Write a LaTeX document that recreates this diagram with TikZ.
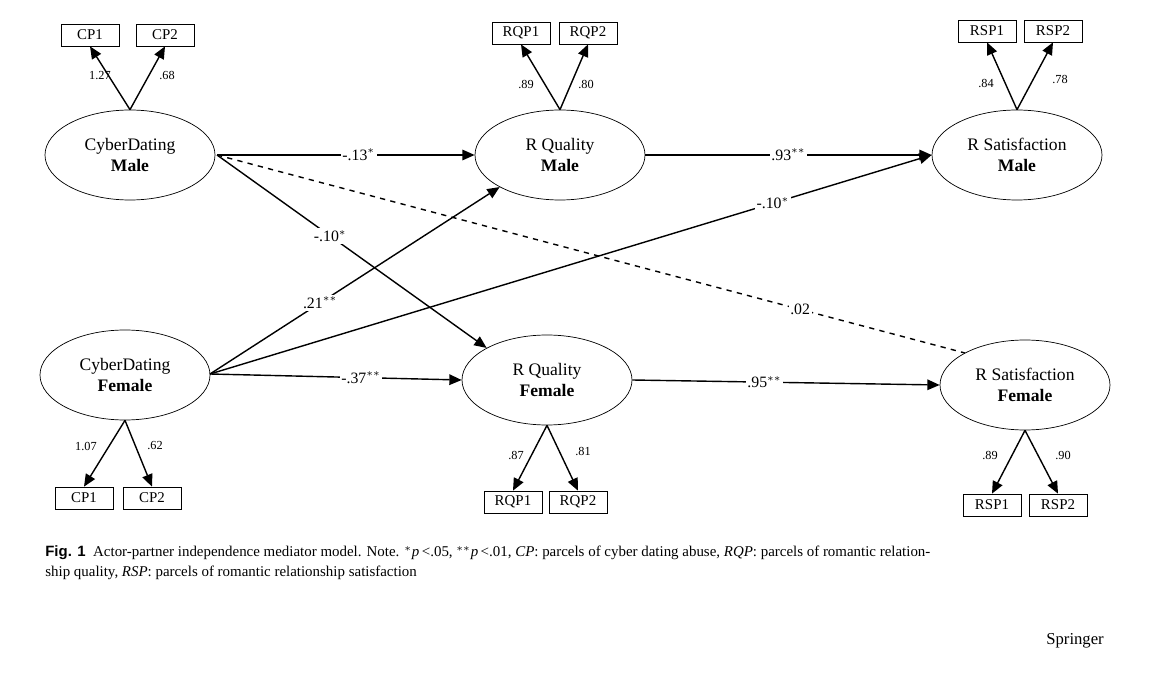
\documentclass[tikz,border=0pt]{standalone}
\usepackage{fontspec}
\setmainfont{Liberation Serif}
\newfontfamily\capsans{Liberation Sans}
\usetikzlibrary{arrows.meta,shapes.geometric}
\begin{document}
\begin{tikzpicture}[x=0.02cm,y=-0.02cm,
  lat/.style={draw,ellipse,minimum width=170*0.02cm,minimum height=90*0.02cm,align=center,font=\fontsize{10}{12}\selectfont,inner sep=0pt},
  box/.style={draw,minimum width=58*0.02cm,minimum height=22*0.02cm,inner sep=0pt,font=\fontsize{8.5}{10}\selectfont},
  ld/.style={font=\fontsize{7}{8}\selectfont},
  arr/.style={thick,-{Triangle[length=7pt,width=6pt]}},
  lab/.style={fill=white,inner sep=1pt,font=\fontsize{9}{10}\selectfont}]
\useasboundingbox (0,0) rectangle (1170,692);
\node[lat] (cdm) at (130,155) {CyberDating\\\textbf{Male}};
\node[lat] (rqm) at (560,155) {R Quality\\\textbf{Male}};
\node[lat] (rsm) at (1017,155) {R Satisfaction\\\textbf{Male}};
\node[lat] (cdf) at (125,375) {CyberDating\\\textbf{Female}};
\node[lat] (rqf) at (547,380) {R Quality\\\textbf{Female}};
\node[lat] (rsf) at (1025,385) {R Satisfaction\\\textbf{Female}};
\node[box] (cp1m) at (90,35) {CP1};
\node[box] (cp2m) at (165,35) {CP2};
\node[box] (rqp1m) at (521,33) {RQP1};
\node[box] (rqp2m) at (588,33) {RQP2};
\node[box] (rsp1m) at (987,31) {RSP1};
\node[box] (rsp2m) at (1053,31) {RSP2};
\node[box] (cp1f) at (84,498) {CP1};
\node[box] (cp2f) at (152,498) {CP2};
\node[box] (rqp1f) at (513,502) {RQP1};
\node[box] (rqp2f) at (578,502) {RQP2};
\node[box] (rsp1f) at (992,505) {RSP1};
\node[box] (rsp2f) at (1058,505) {RSP2};
\foreach \e/\a/\b in {cdm.north/cp1m/cp2m,rqm.north/rqp1m/rqp2m,rsm.north/rsp1m/rsp2m}{
  \draw[arr] (\e) -- (\a.south); \draw[arr] (\e) -- (\b.south);}
\foreach \e/\a/\b in {cdf.south/cp1f/cp2f,rqf.south/rqp1f/rqp2f,rsf.south/rsp1f/rsp2f}{
  \draw[arr] (\e) -- (\a.north); \draw[arr] (\e) -- (\b.north);}
\node[ld] (l1) at (100,76) {1.27}; \node[ld] (l2) at (167,76) {.68};
\node[ld] (l3) at (526,85) {.89}; \node[ld] (l4) at (586,85) {.80};
\node[ld] (l5) at (986,84) {.84}; \node[ld] (l6) at (1060,80) {.78};
\node[ld] (l7) at (86,446) {1.07}; \node[ld] (l8) at (155,446) {.62};
\node[ld] (l9) at (516,455) {.87}; \node[ld] (l10) at (583,451) {.81};
\node[ld] (l11) at (990,455) {.89}; \node[ld] (l12) at (1063,455) {.90};
\coordinate (cdmE) at (217,155);
\coordinate (cdfE) at (210,374);
\draw[thick,dashed] (cdmE) -- (rsf.north west) node[lab,pos=0.78] {.02};
\draw[arr] (cdfE) -- (rsm.west) node[lab,pos=0.78] {-.10$^{*}$};
\draw[arr] (cdmE) -- (rqf.north west) node[lab,pos=0.42] {-.10$^{*}$};
\draw[arr] (cdfE) -- (rqm.south west) node[lab,pos=0.38] {.21$^{**}$};
\draw[arr] (cdmE) -- (rqm.west) node[lab,pos=0.55] {-.13$^{*}$};
\draw[arr] (cdfE) -- (rqf.west) node[lab,pos=0.6] {-.37$^{**}$};
\draw[arr] (rqm.east) -- (rsm.west) node[lab,pos=0.5] {.93$^{**}$};
\draw[arr] (rqf.east) -- (rsf.west) node[lab,pos=0.43] {.95$^{**}$};
\node[anchor=north west,align=left,font=\fontsize{8.5}{11.5}\selectfont,inner sep=0pt] (cap) at (45,545)
 {{\capsans\bfseries Fig. 1}\ \ Actor-partner independence mediator model. Note. $^{*}$\textit{p}\,<.05, $^{**}$\textit{p}\,<.01, \textit{CP}: parcels of cyber dating abuse, \textit{RQP}: parcels of romantic relation-\\ship quality, \textit{RSP}: parcels of romantic relationship satisfaction};
\node[anchor=east,font=\fontsize{9.5}{11}\selectfont] (spr) at (1110,641) {Springer};
\end{tikzpicture}
\end{document}
